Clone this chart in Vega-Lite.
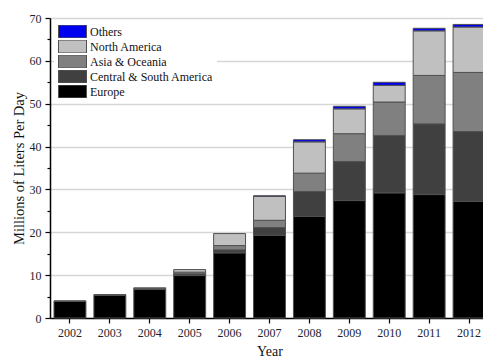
{
  "$schema": "https://vega.github.io/schema/vega-lite/v6.json",
  "width": 439,
  "height": 300,
  "autosize": {"type": "none"},
  "padding": {"left": 50, "top": 18, "right": 0, "bottom": 41},
  "background": "white",
  "config": {
    "view": {"stroke": null},
    "font": "Liberation Serif"
  },
  "data": {
    "values": [
      {"year": "2002", "region": "Europe", "value": 3.9, "rank": 1},
      {"year": "2002", "region": "North America", "value": 0.1, "rank": 4},
      {"year": "2003", "region": "Europe", "value": 5.3, "rank": 1},
      {"year": "2003", "region": "Asia & Oceania", "value": 0.05, "rank": 3},
      {"year": "2003", "region": "North America", "value": 0.1, "rank": 4},
      {"year": "2004", "region": "Europe", "value": 6.7, "rank": 1},
      {"year": "2004", "region": "Central & South America", "value": 0.05, "rank": 2},
      {"year": "2004", "region": "Asia & Oceania", "value": 0.1, "rank": 3},
      {"year": "2004", "region": "North America", "value": 0.2, "rank": 4},
      {"year": "2005", "region": "Europe", "value": 9.9, "rank": 1},
      {"year": "2005", "region": "Central & South America", "value": 0.4, "rank": 2},
      {"year": "2005", "region": "Asia & Oceania", "value": 0.4, "rank": 3},
      {"year": "2005", "region": "North America", "value": 0.6, "rank": 4},
      {"year": "2006", "region": "Europe", "value": 15.2, "rank": 1},
      {"year": "2006", "region": "Central & South America", "value": 0.7, "rank": 2},
      {"year": "2006", "region": "Asia & Oceania", "value": 1.0, "rank": 3},
      {"year": "2006", "region": "North America", "value": 2.8, "rank": 4},
      {"year": "2007", "region": "Europe", "value": 19.3, "rank": 1},
      {"year": "2007", "region": "Central & South America", "value": 1.8, "rank": 2},
      {"year": "2007", "region": "Asia & Oceania", "value": 1.7, "rank": 3},
      {"year": "2007", "region": "North America", "value": 5.6, "rank": 4},
      {"year": "2007", "region": "Others", "value": 0.1, "rank": 5},
      {"year": "2008", "region": "Europe", "value": 23.7, "rank": 1},
      {"year": "2008", "region": "Central & South America", "value": 5.8, "rank": 2},
      {"year": "2008", "region": "Asia & Oceania", "value": 4.3, "rank": 3},
      {"year": "2008", "region": "North America", "value": 7.3, "rank": 4},
      {"year": "2008", "region": "Others", "value": 0.5, "rank": 5},
      {"year": "2009", "region": "Europe", "value": 27.4, "rank": 1},
      {"year": "2009", "region": "Central & South America", "value": 9.1, "rank": 2},
      {"year": "2009", "region": "Asia & Oceania", "value": 6.5, "rank": 3},
      {"year": "2009", "region": "North America", "value": 5.8, "rank": 4},
      {"year": "2009", "region": "Others", "value": 0.6, "rank": 5},
      {"year": "2010", "region": "Europe", "value": 29.2, "rank": 1},
      {"year": "2010", "region": "Central & South America", "value": 13.4, "rank": 2},
      {"year": "2010", "region": "Asia & Oceania", "value": 7.8, "rank": 3},
      {"year": "2010", "region": "North America", "value": 3.9, "rank": 4},
      {"year": "2010", "region": "Others", "value": 0.7, "rank": 5},
      {"year": "2011", "region": "Europe", "value": 28.8, "rank": 1},
      {"year": "2011", "region": "Central & South America", "value": 16.5, "rank": 2},
      {"year": "2011", "region": "Asia & Oceania", "value": 11.3, "rank": 3},
      {"year": "2011", "region": "North America", "value": 10.4, "rank": 4},
      {"year": "2011", "region": "Others", "value": 0.6, "rank": 5},
      {"year": "2012", "region": "Europe", "value": 27.2, "rank": 1},
      {"year": "2012", "region": "Central & South America", "value": 16.3, "rank": 2},
      {"year": "2012", "region": "Asia & Oceania", "value": 13.8, "rank": 3},
      {"year": "2012", "region": "North America", "value": 10.6, "rank": 4},
      {"year": "2012", "region": "Others", "value": 0.6, "rank": 5}
    ]
  },
  "mark": {"type": "bar", "stroke": "#505050", "strokeWidth": 1},
  "encoding": {
    "x": {
      "field": "year",
      "type": "ordinal",
      "scale": {"paddingInner": 0.2, "paddingOuter": 0.1},
      "axis": {
        "title": "Year",
        "titleFont": "Liberation Serif",
        "titleFontSize": 14,
        "titleFontWeight": "normal",
        "titleColor": "#111111",
        "titlePadding": 6,
        "labelAngle": 0,
        "labelFont": "Liberation Serif",
        "labelFontSize": 12,
        "labelColor": "#1e1e30",
        "labelPadding": 4,
        "domainColor": "#000000",
        "domainWidth": 1.5,
        "tickColor": "#000000",
        "tickWidth": 1.2,
        "tickSize": 5
      }
    },
    "y": {
      "field": "value",
      "type": "quantitative",
      "stack": "zero",
      "scale": {"domain": [0, 70], "nice": false},
      "axis": {
        "title": "Millions of Liters Per Day",
        "titleFont": "Liberation Serif",
        "titleFontSize": 14.5,
        "titleFontWeight": "normal",
        "titleColor": "#111111",
        "titlePadding": 3,
        "values": [0, 5, 10, 15, 20, 25, 30, 35, 40, 45, 50, 55, 60, 65, 70],
        "labelExpr": "datum.value % 10 === 0 ? datum.label : ''",
        "labelFont": "Liberation Serif",
        "labelFontSize": 12,
        "labelColor": "#1e1e30",
        "labelPadding": 4,
        "domainColor": "#000000",
        "domainWidth": 1.5,
        "tickColor": "#000000",
        "tickWidth": 1.2,
        "tickSize": {"condition": {"test": "datum.value % 10 === 0", "value": 5}, "value": 3},
        "gridColor": "#d6d6d6",
        "gridWidth": 1.5,
        "gridOpacity": {"condition": {"test": "datum.value % 10 === 0 && datum.value > 0", "value": 1}, "value": 0}
      }
    },
    "color": {
      "field": "region",
      "type": "nominal",
      "scale": {
        "domain": ["Others", "North America", "Asia & Oceania", "Central & South America", "Europe"],
        "range": ["#0000f0", "#c0c0c0", "#808080", "#404040", "#000000"]
      },
      "legend": {
        "title": null,
        "orient": "none",
        "legendX": 4,
        "legendY": 3,
        "padding": 4,
        "fillColor": "white",
        "symbolType": "M-1,-0.46H1V0.46H-1Z",
        "symbolSize": 784,
        "symbolStrokeColor": "#505050",
        "symbolStrokeWidth": 1,
        "symbolOpacity": 1,
        "clipHeight": 13,
        "rowPadding": 2,
        "labelOffset": 3,
        "labelFont": "Liberation Serif",
        "labelFontSize": 12,
        "labelColor": "#111111",
        "labelLimit": 200
      }
    },
    "order": {"field": "rank", "type": "quantitative", "sort": "ascending"}
  }
}
